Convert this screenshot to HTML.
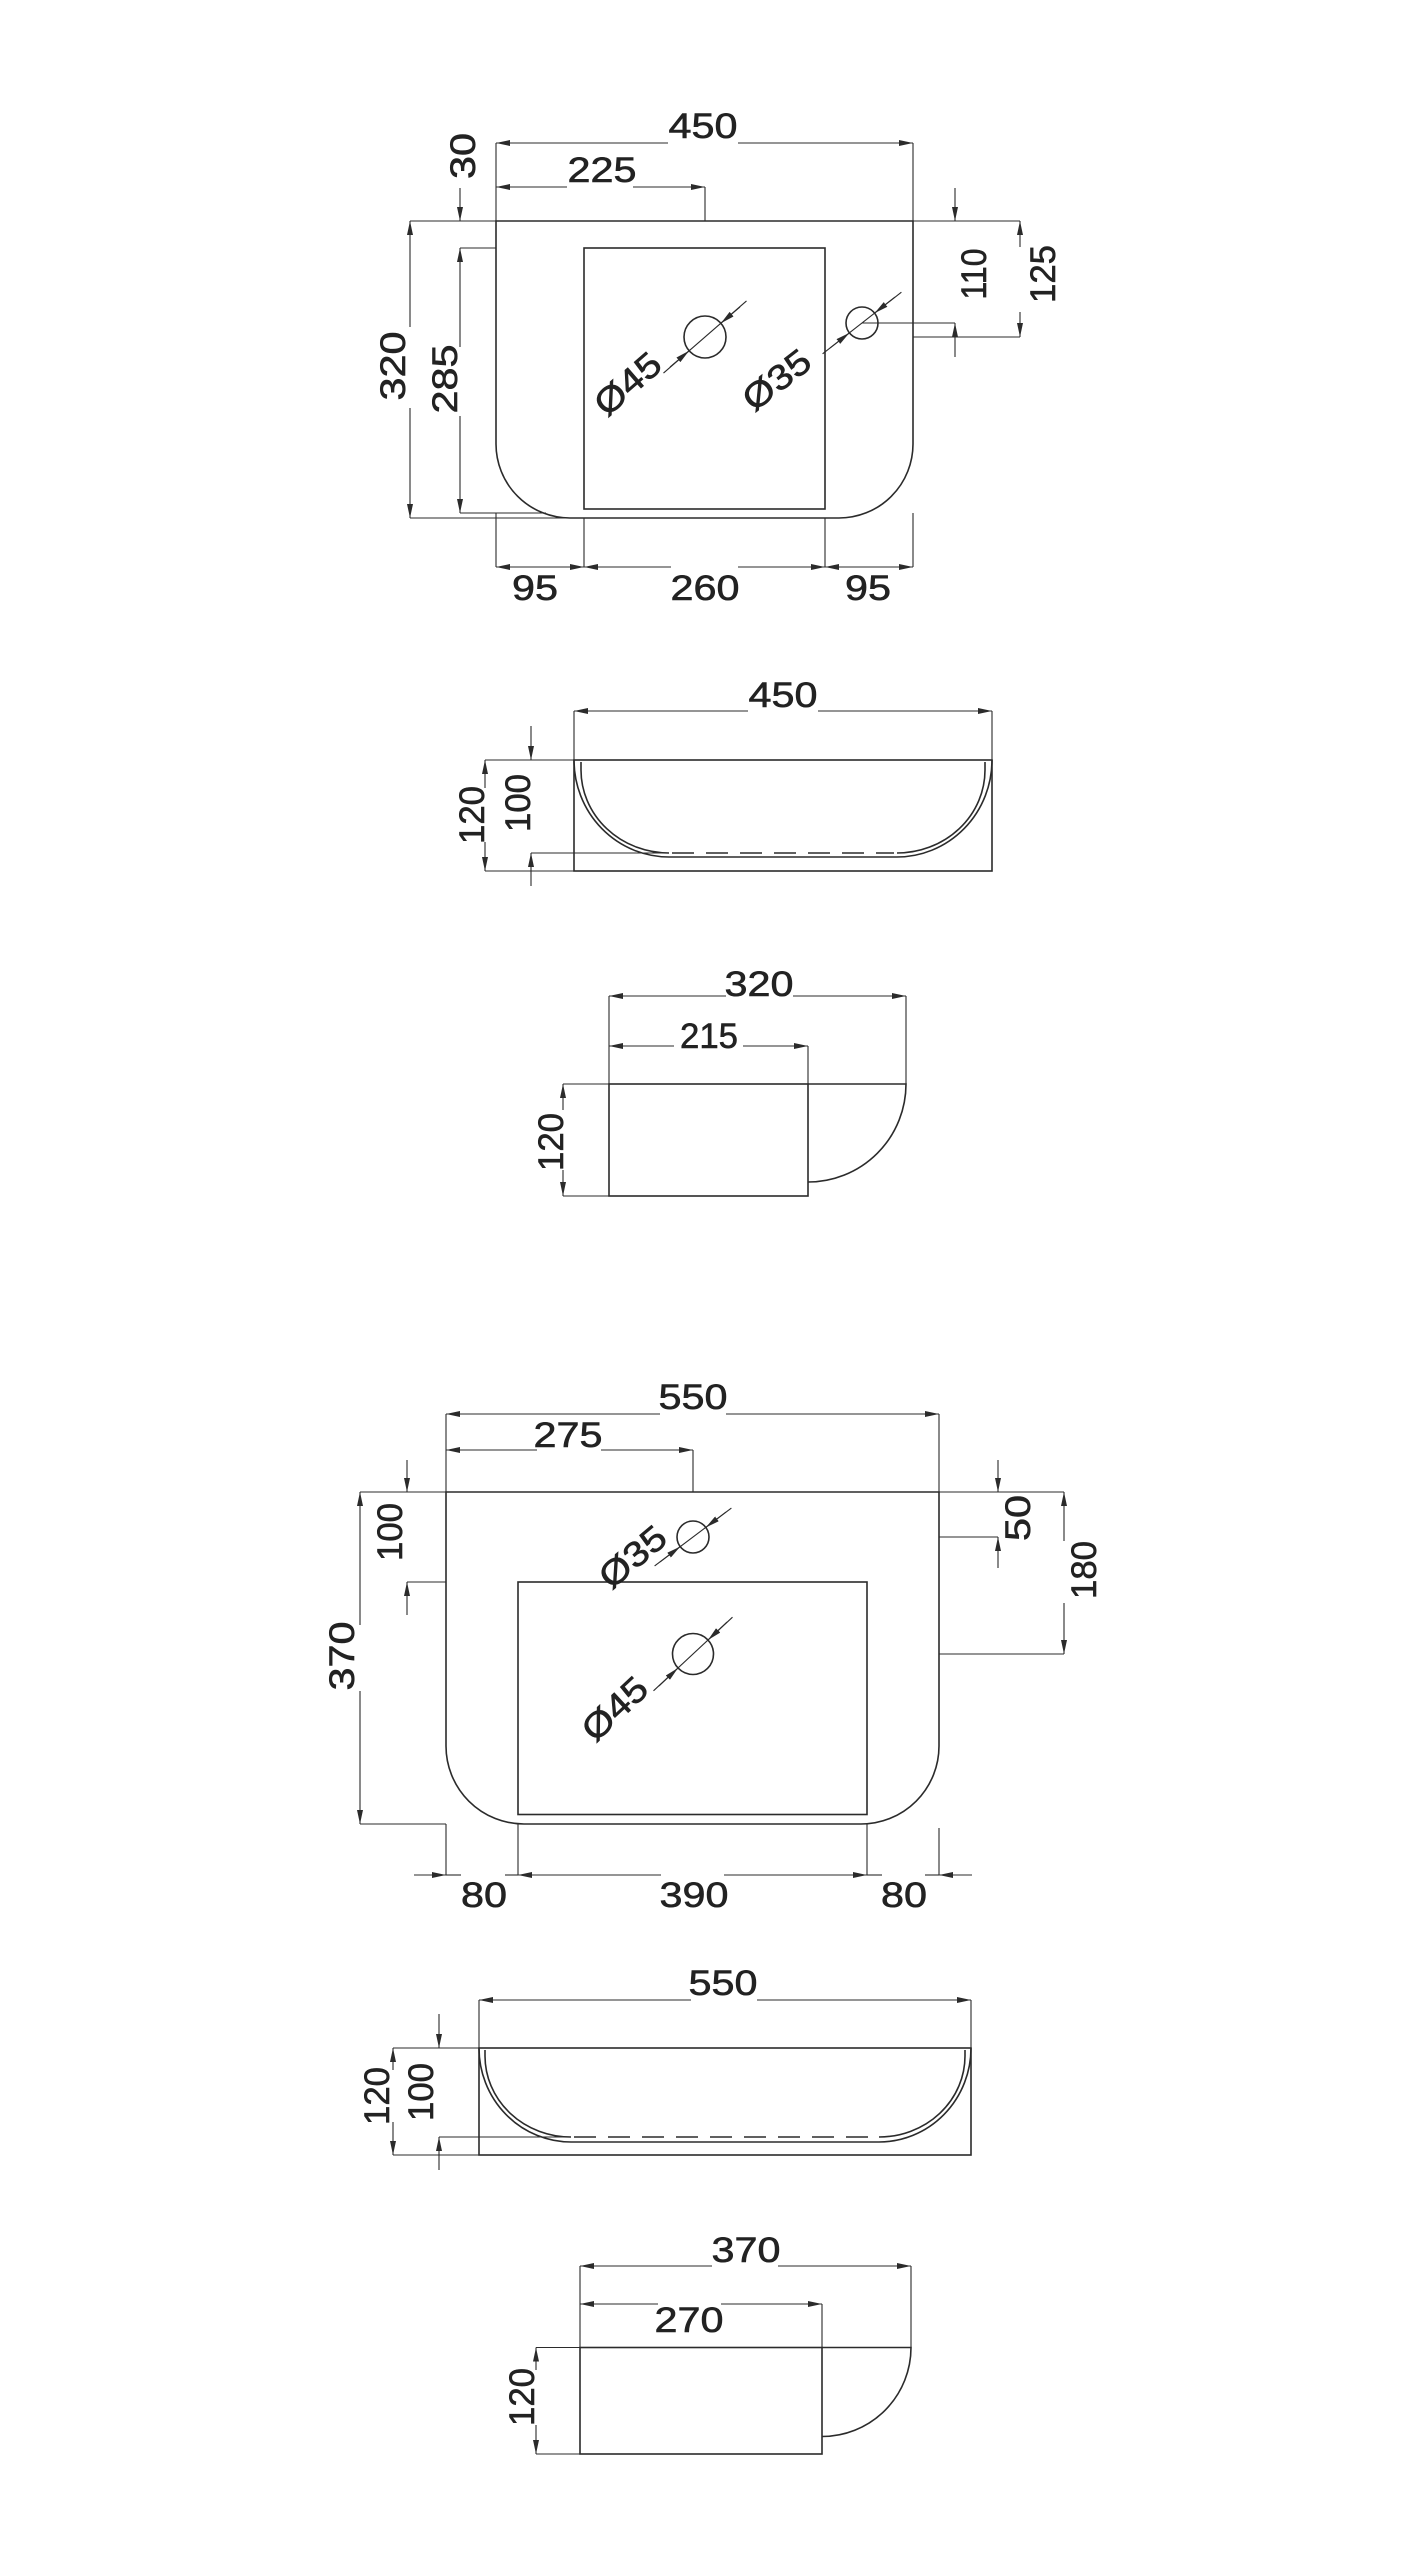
<!DOCTYPE html>
<html><head><meta charset="utf-8"><style>
html,body{margin:0;padding:0;background:#fff}
svg{display:block}
.o{fill:none;stroke:#2b2b2b;stroke-width:1.6}
.d{fill:none;stroke:#2b2b2b;stroke-width:1.1}
.ds{fill:none;stroke:#2b2b2b;stroke-width:1.4;stroke-dasharray:22 12}
text{font-family:"Liberation Sans",sans-serif;font-size:35px;fill:#222;stroke:#222;stroke-width:0.6;text-anchor:middle}
</style></head><body>
<svg width="1422" height="2560" viewBox="0 0 1422 2560" xmlns="http://www.w3.org/2000/svg">
<defs><marker id="m" viewBox="0 0 14 6" refX="14" refY="3" markerWidth="14" markerHeight="6" markerUnits="userSpaceOnUse" orient="auto"><path d="M0,0L14,3L0,6z" fill="#2b2b2b"/></marker></defs>

<!-- ===== TOP VIEW 1 ===== -->
<path class="o" d="M496,221 H913 V444 A74,74 0 0 1 839,518 H570 A74,74 0 0 1 496,444 Z"/>
<rect class="o" x="584" y="248" width="241" height="261"/>
<path class="d" d="M410,221H1020 M496,143V221 M913,143V221 M705,187V221 M460,248H496 M460,513H546 M410,518H570 M862,323H955 M913,337H1020 M496,513V567 M584,518V567 M825,518V567 M913,513V567"/>
<line class="d" x1="668" y1="143" x2="496" y2="143" marker-end="url(#m)"/><line class="d" x1="738" y1="143" x2="913" y2="143" marker-end="url(#m)"/>
<text x="703" y="138" textLength="69" lengthAdjust="spacingAndGlyphs">450</text>
<line class="d" x1="567" y1="187" x2="496" y2="187" marker-end="url(#m)"/><line class="d" x1="633" y1="187" x2="705" y2="187" marker-end="url(#m)"/>
<text x="602" y="182" textLength="69" lengthAdjust="spacingAndGlyphs">225</text>
<line class="d" x1="460" y1="188" x2="460" y2="221" marker-end="url(#m)"/>
<text transform="translate(462,156) rotate(-90)" x="0" y="13" textLength="46" lengthAdjust="spacingAndGlyphs">30</text>
<line class="d" x1="460" y1="347" x2="460" y2="248" marker-end="url(#m)"/><line class="d" x1="460" y1="416" x2="460" y2="513" marker-end="url(#m)"/>
<text transform="translate(444,379) rotate(-90)" x="0" y="13" textLength="69" lengthAdjust="spacingAndGlyphs">285</text>
<line class="d" x1="410" y1="327" x2="410" y2="221" marker-end="url(#m)"/><line class="d" x1="410" y1="408" x2="410" y2="518" marker-end="url(#m)"/>
<text transform="translate(392,366) rotate(-90)" x="0" y="13" textLength="69" lengthAdjust="spacingAndGlyphs">320</text>
<line class="d" x1="955" y1="188" x2="955" y2="221" marker-end="url(#m)"/><line class="d" x1="955" y1="357" x2="955" y2="323" marker-end="url(#m)"/>
<text transform="translate(973,274) rotate(-90)" x="0" y="13" textLength="51" lengthAdjust="spacingAndGlyphs">110</text>
<line class="d" x1="1020" y1="247" x2="1020" y2="221" marker-end="url(#m)"/><line class="d" x1="1020" y1="312" x2="1020" y2="337" marker-end="url(#m)"/>
<text transform="translate(1042,274) rotate(-90)" x="0" y="13" textLength="58" lengthAdjust="spacingAndGlyphs">125</text>
<circle class="o" cx="705" cy="337" r="21"/>
<line class="d" x1="663.5" y1="373.1" x2="746.5" y2="300.9"/>
<line class="d" x1="670" y1="367" x2="689.1" y2="350.8" marker-end="url(#m)"/><line class="d" x1="740" y1="307" x2="720.9" y2="323.2" marker-end="url(#m)"/>
<text transform="translate(627,383) rotate(-41)" x="0" y="13" textLength="76" lengthAdjust="spacingAndGlyphs">Ø45</text>
<circle class="o" cx="862" cy="323" r="16"/>
<line class="d" x1="822.6" y1="353.8" x2="901.4" y2="292.2"/>
<line class="d" x1="830" y1="348" x2="849.4" y2="332.9" marker-end="url(#m)"/><line class="d" x1="895" y1="297" x2="874.6" y2="313.1" marker-end="url(#m)"/>
<text transform="translate(776,379) rotate(-38)" x="0" y="13" textLength="76" lengthAdjust="spacingAndGlyphs">Ø35</text>
<line class="d" x1="540" y1="567" x2="496" y2="567" marker-end="url(#m)"/><line class="d" x1="540" y1="567" x2="584" y2="567" marker-end="url(#m)"/>
<line class="d" x1="671" y1="567" x2="584" y2="567" marker-end="url(#m)"/><line class="d" x1="738" y1="567" x2="825" y2="567" marker-end="url(#m)"/>
<line class="d" x1="869" y1="567" x2="825" y2="567" marker-end="url(#m)"/><line class="d" x1="869" y1="567" x2="913" y2="567" marker-end="url(#m)"/>
<text x="535" y="600" textLength="46" lengthAdjust="spacingAndGlyphs">95</text>
<text x="705" y="600" textLength="69" lengthAdjust="spacingAndGlyphs">260</text>
<text x="868" y="600" textLength="46" lengthAdjust="spacingAndGlyphs">95</text>

<!-- ===== FRONT VIEW 1 ===== -->
<rect class="o" x="574" y="760" width="418" height="111"/>
<path class="o" d="M574,760 A95,97 0 0 0 669,857 H897 A95,97 0 0 0 992,760"/>
<path class="o" d="M581,762 V770 A88,83 0 0 0 669,853 M897,853 A88,83 0 0 0 985,770 V762"/>
<line class="ds" x1="672" y1="853" x2="894" y2="853"/>
<path class="d" d="M574,711V760 M992,711V760 M485,760H574 M485,871H574 M531,853H669"/>
<line class="d" x1="748" y1="711" x2="574" y2="711" marker-end="url(#m)"/><line class="d" x1="818" y1="711" x2="992" y2="711" marker-end="url(#m)"/>
<text x="783" y="707" textLength="69" lengthAdjust="spacingAndGlyphs">450</text>
<line class="d" x1="485" y1="788" x2="485" y2="760" marker-end="url(#m)"/><line class="d" x1="485" y1="842" x2="485" y2="871" marker-end="url(#m)"/>
<text transform="translate(471,815) rotate(-90)" x="0" y="13" textLength="58" lengthAdjust="spacingAndGlyphs">120</text>
<line class="d" x1="531" y1="726" x2="531" y2="760" marker-end="url(#m)"/><line class="d" x1="531" y1="886" x2="531" y2="853" marker-end="url(#m)"/>
<text transform="translate(517,803) rotate(-90)" x="0" y="13" textLength="58" lengthAdjust="spacingAndGlyphs">100</text>

<!-- ===== SIDE VIEW 1 ===== -->
<rect class="o" x="609" y="1084" width="199" height="112"/>
<path class="o" d="M808,1084 H906 A98,98 0 0 1 808,1182"/>
<path class="d" d="M563,1084H609 M563,1196H609 M609,996V1084 M906,996V1084 M808,1046V1084"/>
<line class="d" x1="726" y1="996" x2="609" y2="996" marker-end="url(#m)"/><line class="d" x1="793" y1="996" x2="906" y2="996" marker-end="url(#m)"/>
<text x="759" y="996" textLength="69" lengthAdjust="spacingAndGlyphs">320</text>
<line class="d" x1="674" y1="1046" x2="609" y2="1046" marker-end="url(#m)"/><line class="d" x1="743" y1="1046" x2="808" y2="1046" marker-end="url(#m)"/>
<text x="709" y="1048" textLength="58" lengthAdjust="spacingAndGlyphs">215</text>
<line class="d" x1="563" y1="1110" x2="563" y2="1084" marker-end="url(#m)"/><line class="d" x1="563" y1="1170" x2="563" y2="1196" marker-end="url(#m)"/>
<text transform="translate(550,1142) rotate(-90)" x="0" y="13" textLength="58" lengthAdjust="spacingAndGlyphs">120</text>

<!-- ===== TOP VIEW 2 ===== -->
<path class="o" d="M446,1492 H939 V1746 A78,78 0 0 1 861,1824 H524 A78,78 0 0 1 446,1746 Z"/>
<rect class="o" x="518" y="1582" width="349" height="232.5"/>
<path class="d" d="M360,1492H1064 M446,1414V1492 M939,1414V1492 M693,1450V1492 M407,1582H446 M360,1824H446 M446,1824V1875 M939,1537H998 M939,1654H1064 M518,1824V1875 M867,1824V1875 M939,1828V1875"/>
<line class="d" x1="660" y1="1414" x2="446" y2="1414" marker-end="url(#m)"/><line class="d" x1="726" y1="1414" x2="939" y2="1414" marker-end="url(#m)"/>
<text x="693" y="1409" textLength="69" lengthAdjust="spacingAndGlyphs">550</text>
<line class="d" x1="537" y1="1450" x2="446" y2="1450" marker-end="url(#m)"/><line class="d" x1="601" y1="1450" x2="693" y2="1450" marker-end="url(#m)"/>
<text x="568" y="1447" textLength="69" lengthAdjust="spacingAndGlyphs">275</text>
<line class="d" x1="407" y1="1460" x2="407" y2="1492" marker-end="url(#m)"/><line class="d" x1="407" y1="1615" x2="407" y2="1582" marker-end="url(#m)"/>
<text transform="translate(389,1532) rotate(-90)" x="0" y="13" textLength="58" lengthAdjust="spacingAndGlyphs">100</text>
<line class="d" x1="360" y1="1625" x2="360" y2="1492" marker-end="url(#m)"/><line class="d" x1="360" y1="1691" x2="360" y2="1824" marker-end="url(#m)"/>
<text transform="translate(341,1656) rotate(-90)" x="0" y="13" textLength="69" lengthAdjust="spacingAndGlyphs">370</text>
<line class="d" x1="998" y1="1460" x2="998" y2="1492" marker-end="url(#m)"/><line class="d" x1="998" y1="1568" x2="998" y2="1537" marker-end="url(#m)"/>
<text transform="translate(1017,1518) rotate(-90)" x="0" y="13" textLength="46" lengthAdjust="spacingAndGlyphs">50</text>
<line class="d" x1="1064" y1="1541" x2="1064" y2="1492" marker-end="url(#m)"/><line class="d" x1="1064" y1="1603" x2="1064" y2="1654" marker-end="url(#m)"/>
<text transform="translate(1083,1570) rotate(-90)" x="0" y="13" textLength="58" lengthAdjust="spacingAndGlyphs">180</text>
<circle class="o" cx="693" cy="1537" r="16"/>
<line class="d" x1="654.6" y1="1565.9" x2="731.4" y2="1508.1"/>
<line class="d" x1="660" y1="1562" x2="680.2" y2="1546.6" marker-end="url(#m)"/><line class="d" x1="726" y1="1512" x2="705.8" y2="1527.4" marker-end="url(#m)"/>
<text transform="translate(632,1556) rotate(-40)" x="0" y="13" textLength="76" lengthAdjust="spacingAndGlyphs">Ø35</text>
<circle class="o" cx="693" cy="1654" r="20.5"/>
<line class="d" x1="653.5" y1="1690.8" x2="732.5" y2="1617.2"/>
<line class="d" x1="659" y1="1686" x2="678" y2="1668" marker-end="url(#m)"/><line class="d" x1="727" y1="1622" x2="708" y2="1640" marker-end="url(#m)"/>
<text transform="translate(614,1708) rotate(-43)" x="0" y="13" textLength="76" lengthAdjust="spacingAndGlyphs">Ø45</text>
<line class="d" x1="414" y1="1875" x2="446" y2="1875" marker-end="url(#m)"/><line class="d" x1="446" y1="1875" x2="461" y2="1875"/>
<line class="d" x1="505" y1="1875" x2="518" y2="1875"/>
<line class="d" x1="661" y1="1875" x2="518" y2="1875" marker-end="url(#m)"/><line class="d" x1="724" y1="1875" x2="867" y2="1875" marker-end="url(#m)"/>
<line class="d" x1="867" y1="1875" x2="882" y2="1875"/>
<line class="d" x1="972" y1="1875" x2="939" y2="1875" marker-end="url(#m)"/><line class="d" x1="925" y1="1875" x2="939" y2="1875"/>
<text x="484" y="1907" textLength="46" lengthAdjust="spacingAndGlyphs">80</text>
<text x="694" y="1907" textLength="69" lengthAdjust="spacingAndGlyphs">390</text>
<text x="904" y="1907" textLength="46" lengthAdjust="spacingAndGlyphs">80</text>

<!-- ===== FRONT VIEW 2 ===== -->
<rect class="o" x="479" y="2048" width="492" height="107"/>
<path class="o" d="M479,2048 A92,94 0 0 0 571,2142 H879 A92,94 0 0 0 971,2048"/>
<path class="o" d="M485,2050 V2056 A86,81 0 0 0 571,2137 M879,2137 A86,81 0 0 0 965,2056 V2050"/>
<line class="ds" x1="574" y1="2137" x2="876" y2="2137"/>
<path class="d" d="M479,2000V2048 M971,2000V2048 M393,2048H479 M393,2155H479 M439,2137H571"/>
<line class="d" x1="691" y1="2000" x2="479" y2="2000" marker-end="url(#m)"/><line class="d" x1="757" y1="2000" x2="971" y2="2000" marker-end="url(#m)"/>
<text x="723" y="1995" textLength="69" lengthAdjust="spacingAndGlyphs">550</text>
<line class="d" x1="393" y1="2070" x2="393" y2="2048" marker-end="url(#m)"/><line class="d" x1="393" y1="2122" x2="393" y2="2155" marker-end="url(#m)"/>
<text transform="translate(376,2096) rotate(-90)" x="0" y="13" textLength="58" lengthAdjust="spacingAndGlyphs">120</text>
<line class="d" x1="439" y1="2014" x2="439" y2="2048" marker-end="url(#m)"/><line class="d" x1="439" y1="2170" x2="439" y2="2137" marker-end="url(#m)"/>
<text transform="translate(420,2092) rotate(-90)" x="0" y="13" textLength="58" lengthAdjust="spacingAndGlyphs">100</text>

<!-- ===== SIDE VIEW 2 ===== -->
<rect class="o" x="580" y="2347.5" width="242" height="106.5"/>
<path class="o" d="M822,2347.5 H911 A89,89 0 0 1 822,2436.5"/>
<path class="d" d="M536,2347.5H580 M536,2454H580 M580,2266V2347.5 M911,2266V2347.5 M822,2304V2347.5"/>
<line class="d" x1="712" y1="2266" x2="580" y2="2266" marker-end="url(#m)"/><line class="d" x1="778" y1="2266" x2="911" y2="2266" marker-end="url(#m)"/>
<text x="746" y="2262" textLength="69" lengthAdjust="spacingAndGlyphs">370</text>
<line class="d" x1="658" y1="2304" x2="580" y2="2304" marker-end="url(#m)"/><line class="d" x1="721" y1="2304" x2="822" y2="2304" marker-end="url(#m)"/>
<text x="689" y="2332" textLength="69" lengthAdjust="spacingAndGlyphs">270</text>
<line class="d" x1="536" y1="2370" x2="536" y2="2347.5" marker-end="url(#m)"/><line class="d" x1="536" y1="2425" x2="536" y2="2454" marker-end="url(#m)"/>
<text transform="translate(521,2397) rotate(-90)" x="0" y="13" textLength="58" lengthAdjust="spacingAndGlyphs">120</text>
</svg>
</body></html>
